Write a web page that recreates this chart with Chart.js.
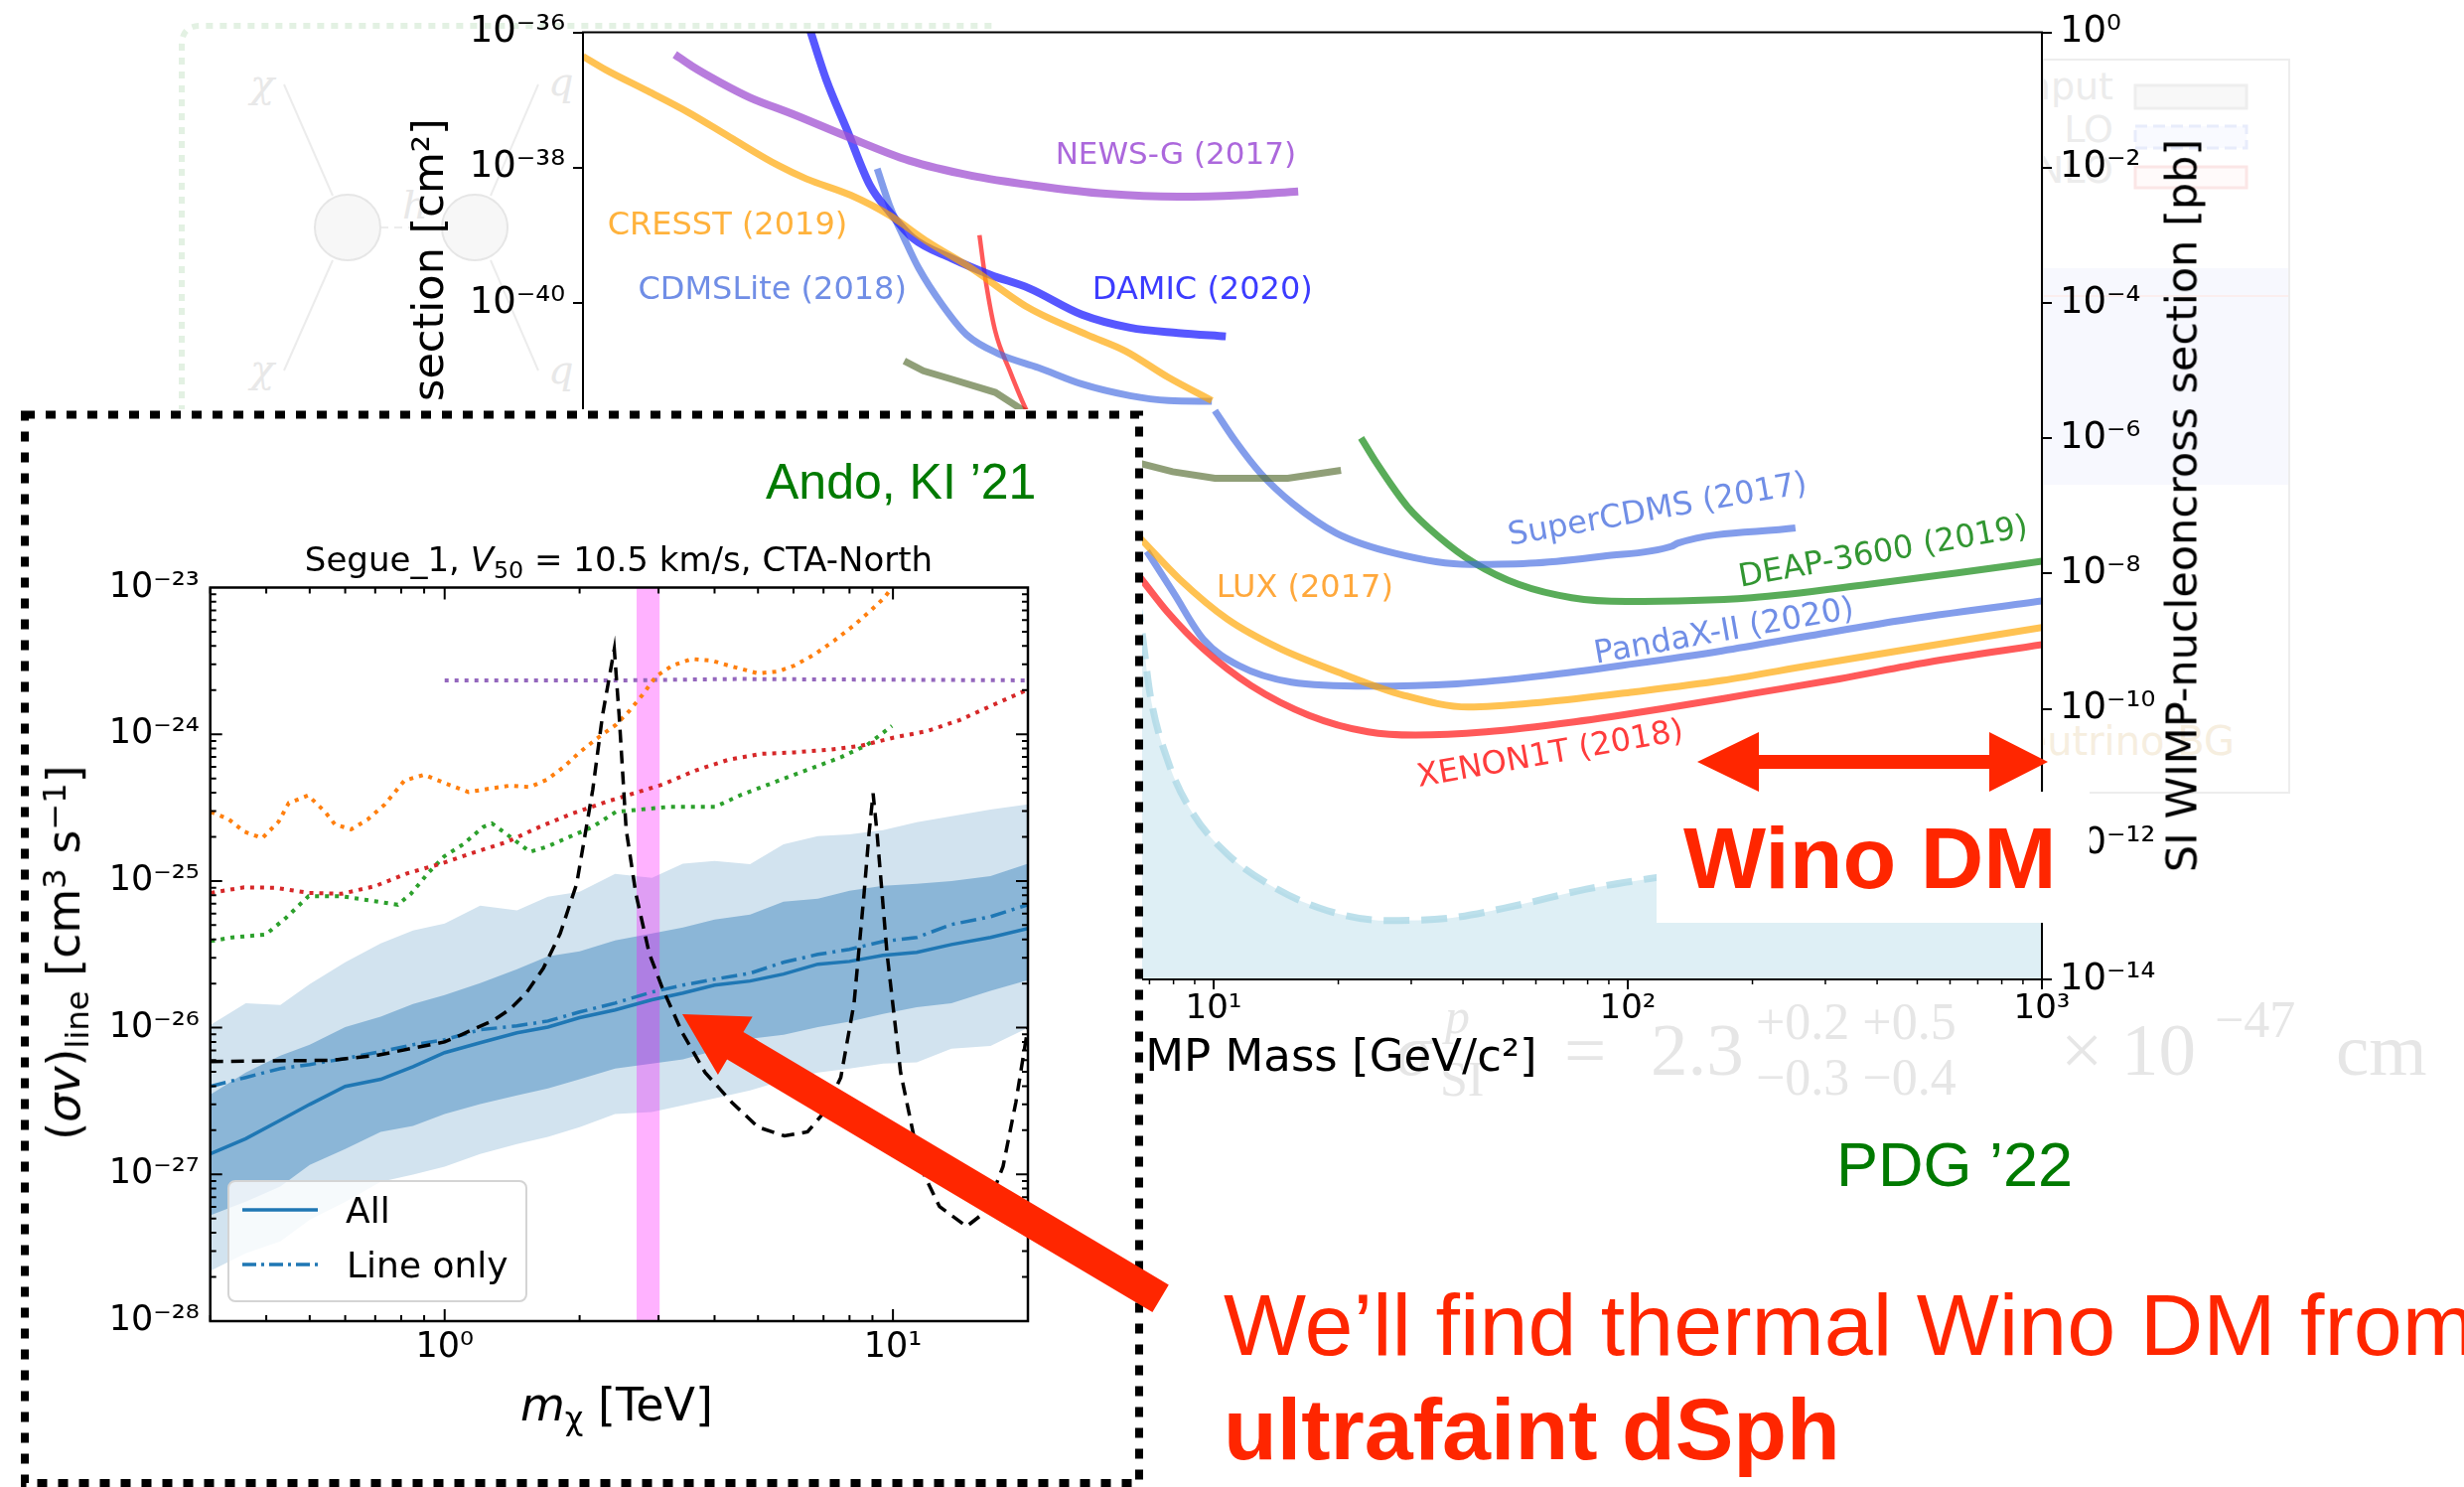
<!DOCTYPE html>
<html>
<head>
<meta charset="utf-8">
<title>Wino DM</title>
<script src="https://cdn.jsdelivr.net/npm/chart.js@4.4.1/dist/chart.umd.min.js"></script>
<style>
  html, body { margin: 0; padding: 0; background: #ffffff; }
  body { position: relative; width: 2481px; height: 1497px; overflow: hidden; font-family: 'DejaVu Sans', sans-serif; }
  .abs { position: absolute; white-space: nowrap; line-height: 1; }
  .sb { font-size: 0.7em; position: relative; top: 0.28em; }
  .sp { font-size: 0.7em; position: relative; top: -0.45em; }
  #faint { position: absolute; left: 0; top: 0; z-index: 0; }
  #main_chart { position: absolute; left: 0; top: 0; z-index: 1; }
  #wino_box { position: absolute; left: 1668px; top: 797px; width: 436px; height: 132px; background: #fff; z-index: 3; }
  #inset_wrap { position: absolute; left: 20px; top: 412px; width: 1130px; height: 1085px; background: #fff; z-index: 5; }
  #inset_chart { position: absolute; left: 0; top: 0; }
  #inset_legend { position: absolute; left: 229px; top: 1188px; width: 298px; height: 119px; border: 2px solid #d4d4d4; border-radius: 8px; background: rgba(255,255,255,0.8); z-index: 7; }
  #arrows { position: absolute; left: 0; top: 0; z-index: 10; }
</style>
</head>
<body>
<svg id="faint" width="2481" height="1497">
  <path d="M183 415 L183 45 Q183 26 202 26 L1000 26" fill="none" stroke="#e3f1e3" stroke-width="6" stroke-dasharray="7 7"/>
  <g stroke="#ececec" stroke-width="2" fill="none">
    <line x1="286" y1="85" x2="335" y2="197"/><line x1="335" y1="262" x2="286" y2="373"/>
    <line x1="542" y1="85" x2="494" y2="197"/><line x1="494" y1="262" x2="542" y2="373"/>
    <line x1="383" y1="229" x2="445" y2="229" stroke-dasharray="8 6"/>
  </g>
  <circle cx="350" cy="229" r="33" fill="#f7f7f7" stroke="#e6e6e6" stroke-width="2"/>
  <circle cx="478" cy="229" r="33" fill="#f7f7f7" stroke="#e6e6e6" stroke-width="2"/>
  <g fill="#e8e8e8" font-family="'DejaVu Serif', serif" font-style="italic" font-size="40">
    <text x="252" y="98">χ</text><text x="252" y="385">χ</text>
    <text x="552" y="96">q</text><text x="552" y="386">q</text>
    <text x="405" y="220">h</text>
  </g>
  <rect x="2057" y="270" width="248" height="218" fill="#f7f8fe"/>
  <line x1="2057" y1="298" x2="2305" y2="298" stroke="#fbeeee" stroke-width="2"/>
  <rect x="2057" y="60" width="248" height="738" fill="none" stroke="#ededed" stroke-width="2"/>
  <g fill="#ececec" font-family="'DejaVu Sans', sans-serif" font-size="38" text-anchor="end">
    <text x="2128" y="100">Input</text><text x="2128" y="143">LO</text><text x="2128" y="184">NLO</text>
  </g>
  <rect x="2150" y="86" width="112" height="23" fill="#f8f8f8" stroke="#eeeeee" stroke-width="3"/>
  <rect x="2150" y="127" width="112" height="22" fill="#f9faff" stroke="#e8ecfb" stroke-width="3" stroke-dasharray="12 6"/>
  <rect x="2150" y="168" width="112" height="21" fill="#fffafa" stroke="#fbe6e6" stroke-width="3"/>
  <text x="2250" y="760" fill="#f6eedf" font-family="'DejaVu Sans', sans-serif" font-size="40" text-anchor="end">neutrino BG</text>
</svg>

<canvas id="main_chart" width="2481" height="1497"></canvas>
<div id="wino_box"></div>
<div id="inset_wrap"><canvas id="inset_chart" width="1130" height="1085"></canvas></div>
<div id="inset_legend"></div>

<svg id="arrows" width="2481" height="1497">
  <rect x="25" y="417.5" width="1122" height="1075.5" fill="none" stroke="#000" stroke-width="8" stroke-dasharray="10 11"/>
  <line x1="244" y1="1218" x2="320" y2="1218" stroke="#1f77b4" stroke-width="3.5"/>
  <line x1="244" y1="1273" x2="320" y2="1273" stroke="#1f77b4" stroke-width="3.5" stroke-dasharray="14 5 3 5"/>
  <polygon fill="#ff2600" points="1709,767 1771,737 1771,760 2003,760 2003,737 2062,767 2003,797 2003,774 1771,774 1771,797"/>
  <polygon fill="#ff2600" points="687,1021 757.7,1023.5 748.5,1038.9 1176.8,1293.4 1160.4,1321 732.1,1066.5 722.9,1081.9"/>
</svg>

<script>
// ---- background chart: SI WIMP-nucleon limits (mass in GeV, sigma in cm^2) ----
const cresstMass = [0.30, 0.34, 0.43, 0.54, 0.68, 0.89, 1.04, 1.33, 1.65, 2.04, 2.60, 3.58, 4.94, 6.12, 7.78, 9.9];
const cresstSigma = [4.4e-37, 2.8e-37, 1.35e-37, 6.5e-38, 2.8e-38, 1.07e-38, 6.8e-39, 3.9e-39, 1.97e-39, 8.0e-40, 3.25e-40, 8.4e-41, 3.4e-41, 1.95e-41, 7.9e-42, 3.6e-42];

const newsgMass = [0.50, 0.55, 0.645, 0.76, 0.965, 1.29, 1.84, 2.60, 3.68, 5.5, 8.2, 11.6, 16.0];
const newsgSigma = [4.7e-37, 3.15e-37, 1.8e-37, 1.08e-37, 6.15e-38, 2.95e-38, 1.27e-38, 7.6e-39, 5.45e-39, 4.1e-39, 3.7e-39, 3.9e-39, 4.45e-39];

const damicMass = [1.05, 1.16, 1.30, 1.48, 1.65, 1.88, 2.33, 2.89, 3.58, 4.81, 6.28, 8.2, 10.7];
const damicSigma = [1.3e-36, 2.0e-37, 3.7e-38, 5.45e-39, 2.2e-39, 9.0e-40, 4.55e-40, 2.6e-40, 1.65e-40, 6.7e-41, 4.3e-41, 3.6e-41, 3.2e-41];

const cdmsliteMass = [1.54, 1.65, 1.79, 1.94, 2.21, 2.53, 3.05, 3.78, 4.81, 6.28, 7.78, 9.9];
const cdmsliteSigma = [9.6e-39, 2.75e-39, 9.0e-40, 3.25e-40, 9.4e-41, 3.4e-41, 1.73e-41, 1.1e-41, 6.3e-42, 4.25e-42, 3.6e-42, 3.5e-42];

const xenonLowMass = [2.72, 2.81, 2.97, 3.22, 3.53, 4.2];
const xenonLowSigma = [1.0e-39, 2.3e-40, 3.8e-41, 9.9e-42, 2.6e-42, 4e-43];

const darksideMass = [1.79, 1.99, 2.33, 2.97, 3.53, 5.0, 6.7, 7.96, 10.07, 15.1, 20.3];
const darksideSigma = [1.39e-41, 9.9e-42, 7.45e-42, 4.75e-42, 2.4e-42, 8e-43, 4.2e-43, 3.2e-43, 2.55e-43, 2.55e-43, 3.35e-43];

const supercdmsMass = [10.07, 11.25, 13.0, 15.5, 19.8, 27.3, 41.5, 60, 87, 127.6, 131.9, 254];
const supercdmsSigma = [2.56e-42, 9.3e-43, 3.0e-43, 1.09e-43, 3.94e-44, 2.0e-44, 1.36e-44, 1.43e-44, 1.8e-44, 2.52e-44, 2.8e-44, 4.7e-44];

const deapMass = [22.7, 24.8, 29.4, 34.9, 42.6, 54.5, 73.2, 99, 199, 382, 625, 1000];
const deapSigma = [1.01e-42, 4.2e-43, 9.7e-44, 3.53e-44, 1.43e-44, 6.9e-45, 4.39e-45, 3.86e-45, 4.39e-45, 6.9e-45, 1.02e-44, 1.52e-44];

const luxMass = [6.0, 6.7, 8.28, 10.8, 14.5, 20.0, 28.8, 41.2, 63, 103, 169, 275, 450, 1000];
const luxSigma = [6.3e-44, 3.15e-44, 8.2e-45, 2.11e-45, 7.7e-46, 3.47e-46, 1.58e-46, 1.06e-46, 1.26e-46, 1.77e-46, 2.62e-46, 4.36e-46, 7.2e-46, 1.59e-45];

const pandaxMass = [6.9, 8.0, 9.44, 11.5, 15.4, 23.6, 38.6, 63, 103, 169, 275, 450, 1000];
const pandaxSigma = [2.13e-44, 5.2e-45, 1.07e-45, 4.36e-46, 2.48e-46, 2.16e-46, 2.34e-46, 3.1e-46, 4.61e-46, 7.2e-46, 1.2e-45, 2.0e-45, 3.92e-45];

const xenonMass = [6.0, 6.7, 7.76, 9.44, 12.3, 17.0, 23.6, 30.7, 45.5, 74.3, 121, 199, 324, 530, 1000];
const xenonSigma = [1.9e-44, 8.2e-45, 2.64e-45, 7.7e-46, 2.21e-46, 8.0e-47, 4.56e-47, 4.08e-47, 4.56e-47, 6.4e-47, 1.0e-46, 1.67e-46, 2.77e-46, 4.86e-46, 8.86e-46];

const nuMass = [5.0, 6.0, 6.7, 7.03, 7.76, 8.84, 10.8, 14.0, 18.8, 26.1, 37.3, 53.6, 79.4, 117.6, 200, 400, 1000];
const nuSigma = [5e-43, 1e-43, 1.51e-45, 1.58e-46, 1.66e-47, 3.05e-48, 7.1e-49, 2.29e-49, 1.04e-49, 7.4e-50, 8.1e-50, 1.23e-49, 2.16e-49, 3.21e-49, 5e-49, 8e-49, 1.5e-48];

const massTicks = [1, 10, 100, 1000];
const sigmaTicks = [1e-36, 1e-38, 1e-40, 1e-42, 1e-44, 1e-46, 1e-48, 1e-50];
const pbTicks = [1, 1e-2, 1e-4, 1e-6, 1e-8, 1e-10, 1e-12, 1e-14];

// ---- inset: Segue 1 line limits (mass in TeV, <sigma v> in cm^3/s) ----
const gridMass = [0.3, 0.36, 0.43, 0.5, 0.6, 0.72, 0.85, 1.0, 1.2, 1.45, 1.7, 2.0, 2.4, 2.9, 3.4, 4.0, 4.8, 5.7, 6.8, 8.0, 9.5, 11.3, 13.5, 16.5, 20];
const band2Upper = [1.04e-26, 1.47e-26, 1.43e-26, 1.98e-26, 2.79e-26, 3.75e-26, 4.6e-26, 5.13e-26, 6.79e-26, 6.3e-26, 7.8e-26, 8.44e-26, 1.12e-25, 1.05e-25, 1.31e-25, 1.37e-25, 1.3e-25, 1.78e-25, 2.02e-25, 2.08e-25, 2.22e-25, 2.51e-25, 2.76e-25, 3.07e-25, 3.33e-25];
const band2Lower = [2.2e-28, 2.9e-28, 3.5e-28, 4.9e-28, 6.5e-28, 8.9e-28, 9.95e-28, 1.13e-27, 1.38e-27, 1.61e-27, 1.8e-27, 2.1e-27, 2.58e-27, 2.66e-27, 2.96e-27, 3.3e-27, 3.74e-27, 4.37e-27, 4.95e-27, 5.27e-27, 5.7e-27, 5.8e-27, 7.2e-27, 7.5e-27, 9.98e-27];
const band1Upper = [3.49e-27, 4.95e-27, 6.45e-27, 7.66e-27, 1.01e-26, 1.19e-26, 1.45e-26, 1.67e-26, 2.01e-26, 2.5e-26, 3.06e-26, 3.31e-26, 3.93e-26, 4.38e-26, 4.82e-26, 5.46e-26, 5.9e-26, 7.23e-26, 7.57e-26, 8.57e-26, 9.27e-26, 9.55e-26, 1.0e-25, 1.08e-25, 1.31e-25];
const band1Lower = [5.26e-28, 6.53e-28, 8.26e-28, 1.16e-27, 1.49e-27, 1.95e-27, 2.14e-27, 2.58e-27, 3.01e-27, 3.46e-27, 3.86e-27, 4.45e-27, 5.27e-27, 5.7e-27, 6.07e-27, 6.98e-27, 8.41e-27, 8.95e-27, 1.01e-26, 1.1e-26, 1.24e-26, 1.38e-26, 1.47e-26, 1.78e-26, 2.11e-26];
const medianAll = [1.38e-27, 1.75e-27, 2.34e-27, 3.0e-27, 3.98e-27, 4.45e-27, 5.43e-27, 6.76e-27, 7.9e-27, 9.23e-27, 1.01e-26, 1.17e-26, 1.32e-26, 1.55e-26, 1.72e-26, 1.95e-26, 2.08e-26, 2.32e-26, 2.71e-26, 2.83e-26, 3.11e-26, 3.26e-26, 3.69e-26, 4.12e-26, 4.74e-26];
const medianLine = [3.98e-27, 4.58e-27, 5.27e-27, 5.61e-27, 6.16e-27, 6.87e-27, 7.66e-27, 8.28e-27, 9.68e-27, 1.03e-26, 1.11e-26, 1.28e-26, 1.47e-26, 1.75e-26, 1.95e-26, 2.14e-26, 2.35e-26, 2.79e-26, 3.16e-26, 3.42e-26, 3.87e-26, 4.12e-26, 5.05e-26, 5.71e-26, 6.89e-26];

const winoMass = [0.3, 0.56, 0.71, 0.84, 1.0, 1.085, 1.18, 1.285, 1.40, 1.52, 1.66, 1.81, 1.97, 2.14, 2.25, 2.39, 2.45, 2.54, 2.67, 2.86, 3.06, 3.39, 3.81, 4.37, 5.0, 5.73, 6.45, 7.03, 7.65, 8.19, 8.62, 8.84, 9.03, 9.22, 9.70, 10.4, 11.5, 12.7, 14.6, 16.1, 17.6, 18.8, 20];
const winoSigma = [5.88e-27, 6.0e-27, 6.5e-27, 7.2e-27, 8.0e-27, 8.9e-27, 1.0e-26, 1.12e-26, 1.34e-26, 1.72e-26, 2.54e-26, 4.38e-26, 9.55e-26, 4.2e-25, 1.35e-24, 3.8e-24, 1.35e-24, 2.25e-25, 8.18e-26, 3.21e-26, 1.86e-26, 9.23e-27, 4.95e-27, 3.1e-27, 2.1e-27, 1.83e-27, 1.95e-27, 2.66e-27, 4.58e-27, 1.47e-26, 8.18e-26, 2.08e-25, 3.95e-25, 2.08e-25, 3.21e-26, 4.95e-27, 1.13e-27, 6.04e-28, 4.42e-28, 5.58e-28, 1.13e-27, 3.1e-27, 1.0e-26];

const orangeMass = [0.301, 0.330, 0.357, 0.392, 0.426, 0.449, 0.496, 0.541, 0.569, 0.619, 0.674, 0.735, 0.813, 0.900, 1.0, 1.13, 1.26, 1.40, 1.55, 1.69, 1.84, 2.0, 2.18, 2.41, 2.58, 2.76, 2.96, 3.22, 3.56, 3.94, 4.37, 5.0, 5.54, 6.03, 6.68, 7.39, 8.17, 8.9, 9.53, 9.96, 10.5];
const orangeSigma = [2.96e-25, 2.63e-25, 2.17e-25, 1.96e-25, 2.53e-25, 3.4e-25, 3.83e-25, 2.96e-25, 2.43e-25, 2.25e-25, 2.63e-25, 3.32e-25, 4.83e-25, 5.3e-25, 4.65e-25, 4.04e-25, 4.26e-25, 4.47e-25, 4.37e-25, 4.9e-25, 5.96e-25, 7.53e-25, 9.3e-25, 1.16e-24, 1.44e-24, 1.85e-24, 2.48e-24, 2.94e-24, 3.26e-24, 3.18e-24, 2.9e-24, 2.6e-24, 2.68e-24, 2.94e-24, 3.5e-24, 4.34e-24, 5.5e-24, 6.93e-24, 8.43e-24, 1.0e-23, 1.25e-23];

const redMass = [0.301, 0.357, 0.419, 0.497, 0.589, 0.698, 0.827, 0.98, 1.16, 1.38, 1.63, 1.93, 2.29, 3.06, 3.62, 4.29, 5.09, 6.03, 7.15, 8.47, 10.05, 11.9, 14.1, 16.7, 20];
const redSigma = [8.3e-26, 9.05e-26, 8.98e-26, 8.3e-26, 8.18e-26, 9.2e-26, 1.13e-25, 1.31e-25, 1.56e-25, 1.85e-25, 2.34e-25, 2.89e-25, 3.46e-25, 4.54e-25, 5.65e-25, 6.7e-25, 7.36e-25, 7.53e-25, 7.83e-25, 8.34e-25, 9.5e-25, 1.05e-24, 1.25e-24, 1.58e-24, 2.02e-24];

const greenMass = [0.301, 0.336, 0.399, 0.441, 0.497, 0.589, 0.698, 0.786, 0.841, 0.916, 0.997, 1.10, 1.22, 1.275, 1.376, 1.55, 1.69, 1.90, 2.14, 2.41, 3.16, 4.01, 4.60, 5.45, 6.45, 7.65, 8.76, 9.95];
const greenSigma = [3.9e-26, 4.12e-26, 4.32e-26, 5.55e-26, 7.87e-26, 7.87e-26, 7.28e-26, 6.89e-26, 8.18e-26, 1.12e-25, 1.47e-25, 1.78e-25, 2.34e-25, 2.47e-25, 2.08e-25, 1.58e-25, 1.71e-25, 2.0e-25, 2.34e-25, 2.96e-25, 3.2e-25, 3.2e-25, 3.88e-25, 4.72e-25, 5.73e-25, 6.97e-25, 8.47e-25, 1.14e-24];

const purpleMass = [1.0, 2.5, 4.5, 20];
const purpleSigma = [2.33e-24, 2.33e-24, 2.38e-24, 2.33e-24];

const pinkMass = [2.68, 3.02];
const pinkTop = [1e-23, 1e-23];

const tevTicks = [1, 10];
const svTicks = [1e-28, 1e-27, 1e-26, 1e-25, 1e-24, 1e-23];

// ---- helpers ----
const FONT = "'DejaVu Sans', sans-serif";
const SLIDE_FONT = "'Liberation Sans', Arial, sans-serif";
Chart.defaults.font.family = FONT;
Chart.defaults.color = '#000';

const SUP = {'-': '⁻', '0': '⁰', '1': '¹', '2': '²', '3': '³', '4': '⁴', '5': '⁵', '6': '⁶', '7': '⁷', '8': '⁸', '9': '⁹'};
const powLabel = (v) => '10' + String(Math.round(Math.log10(v))).split('').map(c => SUP[c]).join('');
const pts = (xs, ys) => xs.map((x, i) => ({x: x, y: ys[i]}));

const curve = (label, xs, ys, color, width, extra) => Object.assign({
  label: label,
  data: pts(xs, ys),
  borderColor: color,
  borderWidth: width,
  pointRadius: 0,
  fill: false,
  cubicInterpolationMode: 'monotone'
}, extra || {});

function place(html, left, baseline, size, style) {
  const el = document.createElement('div');
  el.className = 'abs';
  el.innerHTML = html;
  el.style.left = left + 'px';
  el.style.top = (baseline - 0.846 * size) + 'px';
  el.style.fontSize = size + 'px';
  Object.assign(el.style, style || {});
  document.body.appendChild(el);
  return el;
}

function rotText(html, cx, cy, size, style) {
  const el = document.createElement('div');
  el.className = 'abs';
  el.innerHTML = html;
  el.style.left = cx + 'px';
  el.style.top = cy + 'px';
  el.style.fontSize = size + 'px';
  el.style.transform = 'translate(-50%, -50%) rotate(-90deg)';
  Object.assign(el.style, style || {});
  document.body.appendChild(el);
  return el;
}

// labels written along the background curves
const curveLabels = [
  {text: 'NEWS-G (2017)', m: 8.1, s: 1.49e-38, rot: 0, size: 31, color: 'rgb(172,104,220)'},
  {text: 'CRESST (2019)', m: 0.67, s: 1.35e-39, rot: 0, size: 32, color: 'rgb(255,178,60)'},
  {text: 'CDMSLite (2018)', m: 0.86, s: 1.5e-40, rot: 0, size: 32, color: 'rgb(112,142,230)'},
  {text: 'DAMIC (2020)', m: 9.4, s: 1.5e-40, rot: 0, size: 32, color: 'rgb(60,60,255)'},
  {text: 'SuperCDMS (2017)', m: 118, s: 8.5e-44, rot: -10, size: 32, color: 'rgb(112,142,230)'},
  {text: 'DEAP-3600 (2019)', m: 414, s: 2.0e-44, rot: -10, size: 32, color: 'rgb(50,150,50)'},
  {text: 'LUX (2017)', m: 16.6, s: 5.9e-45, rot: 0, size: 32, color: 'rgb(255,168,60)'},
  {text: 'PandaX-II (2020)', m: 171, s: 1.35e-45, rot: -10, size: 32, color: 'rgb(112,142,230)'},
  {text: 'XENON1T (2018)', m: 65, s: 2.07e-47, rot: -10, size: 32, color: 'rgb(255,60,60)'}
];

const mainDecor = {
  id: 'mainDecor',
  beforeDraw(chart) {
    const {ctx, chartArea: a} = chart;
    ctx.save();
    ctx.fillStyle = '#fff';
    ctx.fillRect(a.left, a.top, a.right - a.left, a.bottom - a.top);
    ctx.restore();
  },
  afterDatasetsDraw(chart) {
    const {ctx, scales} = chart;
    ctx.save();
    ctx.textAlign = 'center';
    ctx.textBaseline = 'middle';
    curveLabels.forEach(l => {
      const px = scales.x.getPixelForValue(l.m);
      const py = scales.y.getPixelForValue(l.s);
      ctx.save();
      ctx.translate(px, py);
      ctx.rotate(l.rot * Math.PI / 180);
      ctx.font = l.size + 'px ' + FONT;
      ctx.fillStyle = l.color;
      ctx.fillText(l.text, 0, 0);
      ctx.restore();
    });
    ctx.restore();
  },
  afterDraw(chart) {
    const {ctx, chartArea: a, scales} = chart;
    ctx.save();
    ctx.strokeStyle = '#000';
    ctx.lineWidth = 1.5;
    for (let n = -1; n <= 2; n++) {
      for (let k = 2; k <= 9; k++) {
        const v = k * Math.pow(10, n);
        if (v <= 0.3 || v >= 1000) continue;
        const px = scales.x.getPixelForValue(v);
        ctx.beginPath();
        ctx.moveTo(px, a.bottom);
        ctx.lineTo(px, a.bottom + 5);
        ctx.stroke();
      }
    }
    ctx.lineWidth = 2;
    ctx.strokeRect(a.left, a.top, a.right - a.left, a.bottom - a.top);
    ctx.restore();
  }
};

const mainSets = [
  curve('Neutrino floor', nuMass, nuSigma, 'rgba(173,216,230,0.8)', 7, {borderDash: [26, 12], fill: 'start', backgroundColor: 'rgba(173,216,230,0.4)', order: 20}),
  curve('CRESST (2019)', cresstMass, cresstSigma, 'rgba(255,165,0,0.68)', 7),
  curve('NEWS-G (2017)', newsgMass, newsgSigma, 'rgba(160,80,210,0.75)', 8),
  curve('DAMIC (2020)', damicMass, damicSigma, 'rgba(40,40,255,0.78)', 8),
  curve('CDMSLite (2018)', cdmsliteMass, cdmsliteSigma, 'rgba(65,105,225,0.65)', 7),
  curve('XENON1T low mass', xenonLowMass, xenonLowSigma, 'rgba(255,0,0,0.65)', 4.5),
  curve('DarkSide-50', darksideMass, darksideSigma, 'rgba(85,107,47,0.65)', 7, {cubicInterpolationMode: 'default', tension: 0}),
  curve('SuperCDMS (2017)', supercdmsMass, supercdmsSigma, 'rgba(65,105,225,0.65)', 7),
  curve('DEAP-3600 (2019)', deapMass, deapSigma, 'rgba(0,128,0,0.65)', 7),
  curve('LUX (2017)', luxMass, luxSigma, 'rgba(255,165,0,0.68)', 7),
  curve('PandaX-II (2020)', pandaxMass, pandaxSigma, 'rgba(65,105,225,0.65)', 7),
  curve('XENON1T (2018)', xenonMass, xenonSigma, 'rgba(255,0,0,0.65)', 7)
];

new Chart(document.getElementById('main_chart'), {
  type: 'line',
  data: {datasets: mainSets},
  options: {
    responsive: false,
    animation: false,
    devicePixelRatio: 1,
    layout: {padding: {top: 32.5, left: 0, right: 0, bottom: 0}},
    plugins: {legend: {display: false}, tooltip: {enabled: false}},
    scales: {
      x: {
        type: 'logarithmic', min: 0.3, max: 1000,
        afterFit: s => { s.height = 511; },
        afterBuildTicks: s => { s.ticks = massTicks.map(v => ({value: v})); },
        ticks: {callback: v => powLabel(v), font: {size: 34}, color: '#000', padding: 0, autoSkip: false, maxRotation: 0},
        grid: {drawOnChartArea: false, color: '#000', lineWidth: 2, tickLength: 10},
        border: {display: false},
        title: {display: true, text: 'WIMP Mass [GeV/c²]', font: {size: 45}, color: '#000', padding: {top: 0, bottom: 404}}
      },
      y: {
        type: 'logarithmic', position: 'left', min: 1e-50, max: 1e-36,
        afterFit: s => { s.width = 587; },
        afterBuildTicks: s => { s.ticks = sigmaTicks.map(v => ({value: v})); },
        ticks: {callback: v => powLabel(v), font: {size: 37}, color: '#000', padding: 8, autoSkip: false},
        grid: {drawOnChartArea: false, color: '#000', lineWidth: 2, tickLength: 10},
        border: {display: false},
        title: {display: true, text: 'SI WIMP-nucleon cross section [cm²]', font: {size: 43}, color: '#000', padding: {top: 409, bottom: 0}}
      },
      y2: {
        type: 'logarithmic', position: 'right', min: 1e-14, max: 1,
        afterFit: s => { s.width = 425; },
        afterBuildTicks: s => { s.ticks = pbTicks.map(v => ({value: v})); },
        ticks: {callback: v => powLabel(v), font: {size: 37}, color: '#000', padding: 8, autoSkip: false},
        grid: {drawOnChartArea: false, color: '#000', lineWidth: 2, tickLength: 10},
        border: {display: false}
      }
    }
  },
  plugins: [mainDecor]
});

// ---- inset chart ----
const insetDecor = {
  id: 'insetDecor',
  afterDraw(chart) {
    const {ctx, chartArea: a, scales} = chart;
    ctx.save();
    ctx.strokeStyle = '#000';
    ctx.lineWidth = 2;
    const xTick = (v, len) => {
      const px = scales.x.getPixelForValue(v);
      ctx.beginPath();
      ctx.moveTo(px, a.bottom); ctx.lineTo(px, a.bottom - len);
      ctx.moveTo(px, a.top); ctx.lineTo(px, a.top + len);
      ctx.stroke();
    };
    const yTick = (v, len) => {
      const py = scales.y.getPixelForValue(v);
      ctx.beginPath();
      ctx.moveTo(a.left, py); ctx.lineTo(a.left + len, py);
      ctx.moveTo(a.right, py); ctx.lineTo(a.right - len, py);
      ctx.stroke();
    };
    for (let n = -1; n <= 1; n++) {
      for (let k = 1; k <= 9; k++) {
        const v = k * Math.pow(10, n);
        if (v <= 0.3 || v >= 20) continue;
        xTick(v, k === 1 ? 12 : 6);
      }
    }
    for (let n = -28; n <= -24; n++) {
      for (let k = 1; k <= 9; k++) {
        const v = k * Math.pow(10, n);
        yTick(v, k === 1 ? 12 : 6);
      }
    }
    ctx.lineWidth = 2.5;
    ctx.strokeRect(a.left, a.top, a.right - a.left, a.bottom - a.top);
    ctx.restore();
  }
};

const lineOpts = (extra) => Object.assign({pointRadius: 0, fill: false, tension: 0}, extra);

const insetSets = [
  lineOpts({label: '2 sigma upper', data: pts(gridMass, band2Upper), borderWidth: 0, fill: '+1', backgroundColor: '#d2e3ef', order: 10}),
  lineOpts({label: '2 sigma lower', data: pts(gridMass, band2Lower), borderWidth: 0, order: 10}),
  lineOpts({label: '1 sigma upper', data: pts(gridMass, band1Upper), borderWidth: 0, fill: '+1', backgroundColor: '#8bb6d7', order: 9}),
  lineOpts({label: '1 sigma lower', data: pts(gridMass, band1Lower), borderWidth: 0, order: 9}),
  lineOpts({label: 'Wino mass', data: pts(pinkMass, pinkTop), borderWidth: 0, fill: 'start', backgroundColor: 'rgba(255,0,255,0.3)', order: 8}),
  lineOpts({label: 'orange', data: pts(orangeMass, orangeSigma), borderColor: '#ff7f0e', borderWidth: 4, borderDash: [4, 6], order: 6}),
  lineOpts({label: 'red', data: pts(redMass, redSigma), borderColor: '#d62728', borderWidth: 4, borderDash: [4, 6], order: 6}),
  lineOpts({label: 'green', data: pts(greenMass, greenSigma), borderColor: '#2ca02c', borderWidth: 4, borderDash: [4, 6], order: 6}),
  lineOpts({label: 'purple', data: pts(purpleMass, purpleSigma), borderColor: '#9467bd', borderWidth: 4, borderDash: [4, 6], order: 6}),
  lineOpts({label: 'All', data: pts(gridMass, medianAll), borderColor: '#1f77b4', borderWidth: 3.5, order: 4}),
  lineOpts({label: 'Line only', data: pts(gridMass, medianLine), borderColor: '#1f77b4', borderWidth: 3.5, borderDash: [16, 6, 3, 6], order: 4}),
  lineOpts({label: 'Wino', data: pts(winoMass, winoSigma), borderColor: '#000', borderWidth: 3.5, borderDash: [13, 8], order: 2})
];

new Chart(document.getElementById('inset_chart'), {
  type: 'line',
  data: {datasets: insetSets},
  options: {
    responsive: false,
    animation: false,
    devicePixelRatio: 1,
    layout: {padding: {top: 179.5, right: 115, left: 0, bottom: 0}},
    plugins: {legend: {display: false}, tooltip: {enabled: false}},
    scales: {
      x: {
        type: 'logarithmic', min: 0.3, max: 20,
        afterFit: s => { s.height = 167; },
        afterBuildTicks: s => { s.ticks = tevTicks.map(v => ({value: v})); },
        ticks: {callback: v => powLabel(v), font: {size: 35}, color: '#000', padding: 6, autoSkip: false, maxRotation: 0},
        grid: {display: false, drawTicks: false},
        border: {display: false}
      },
      y: {
        type: 'logarithmic', min: 1e-28, max: 1e-23,
        afterFit: s => { s.width = 191.7; },
        afterBuildTicks: s => { s.ticks = svTicks.map(v => ({value: v})); },
        ticks: {callback: v => powLabel(v), font: {size: 35}, color: '#000', padding: 11, autoSkip: false},
        grid: {display: false, drawTicks: false},
        border: {display: false}
      }
    }
  },
  plugins: [insetDecor]
});

// ---- text outside the canvases ----
rotText('SI WIMP-nucleoncross section [pb]', 2197, 509, 43, {zIndex: 2});

place('Segue_1, <i>V</i><span class="sb">50</span> = 10.5 km/s, CTA-North', 623, 575, 34, {transform: 'translateX(-50%)', zIndex: 7});
place('<i>m</i><span class="sb">χ</span> [TeV]', 621, 1430, 46, {transform: 'translateX(-50%)', zIndex: 7});
rotText('(<i>σv</i>)<span class="sb">line</span> [cm<span class="sp">3</span> s<span class="sp">−1</span>]', 64, 959, 46, {zIndex: 7});
place('All', 348, 1231, 36, {zIndex: 8});
place('Line only', 349, 1286, 36, {zIndex: 8});
place('Ando, KI ’21', 771, 502, 50, {fontFamily: SLIDE_FONT, color: '#007a00', zIndex: 7});

place('Wino DM', 1695, 894, 88, {fontFamily: SLIDE_FONT, fontWeight: 'bold', color: '#ff2600', zIndex: 4});
place('PDG ’22', 1849, 1194, 63, {fontFamily: SLIDE_FONT, color: '#007a00', zIndex: 4});
place('We’ll find thermal Wino DM from', 1232, 1364, 88, {fontFamily: SLIDE_FONT, color: '#ff2600', zIndex: 4});
place('ultrafaint dSph', 1232, 1469, 88, {fontFamily: SLIDE_FONT, fontWeight: 'bold', color: '#ff2600', zIndex: 4});

// faint formula left over on the slide
const faint = {fontFamily: "'Liberation Serif', serif", color: '#e6e6e6', zIndex: 0};
place('<i>σ</i>', 1405, 1082, 75, faint);
place('<i>p</i>', 1455, 1040, 50, faint);
place('SI', 1450, 1103, 50, faint);
place('=', 1575, 1082, 75, faint);
place('2.3', 1662, 1082, 75, faint);
place('+0.2 +0.5', 1768, 1047, 52, faint);
place('−0.3 −0.4', 1768, 1103, 52, faint);
place('× 10', 2075, 1082, 75, faint);
place('−47', 2230, 1045, 52, faint);
place('cm', 2352, 1082, 75, faint);
</script>
</body>
</html>
